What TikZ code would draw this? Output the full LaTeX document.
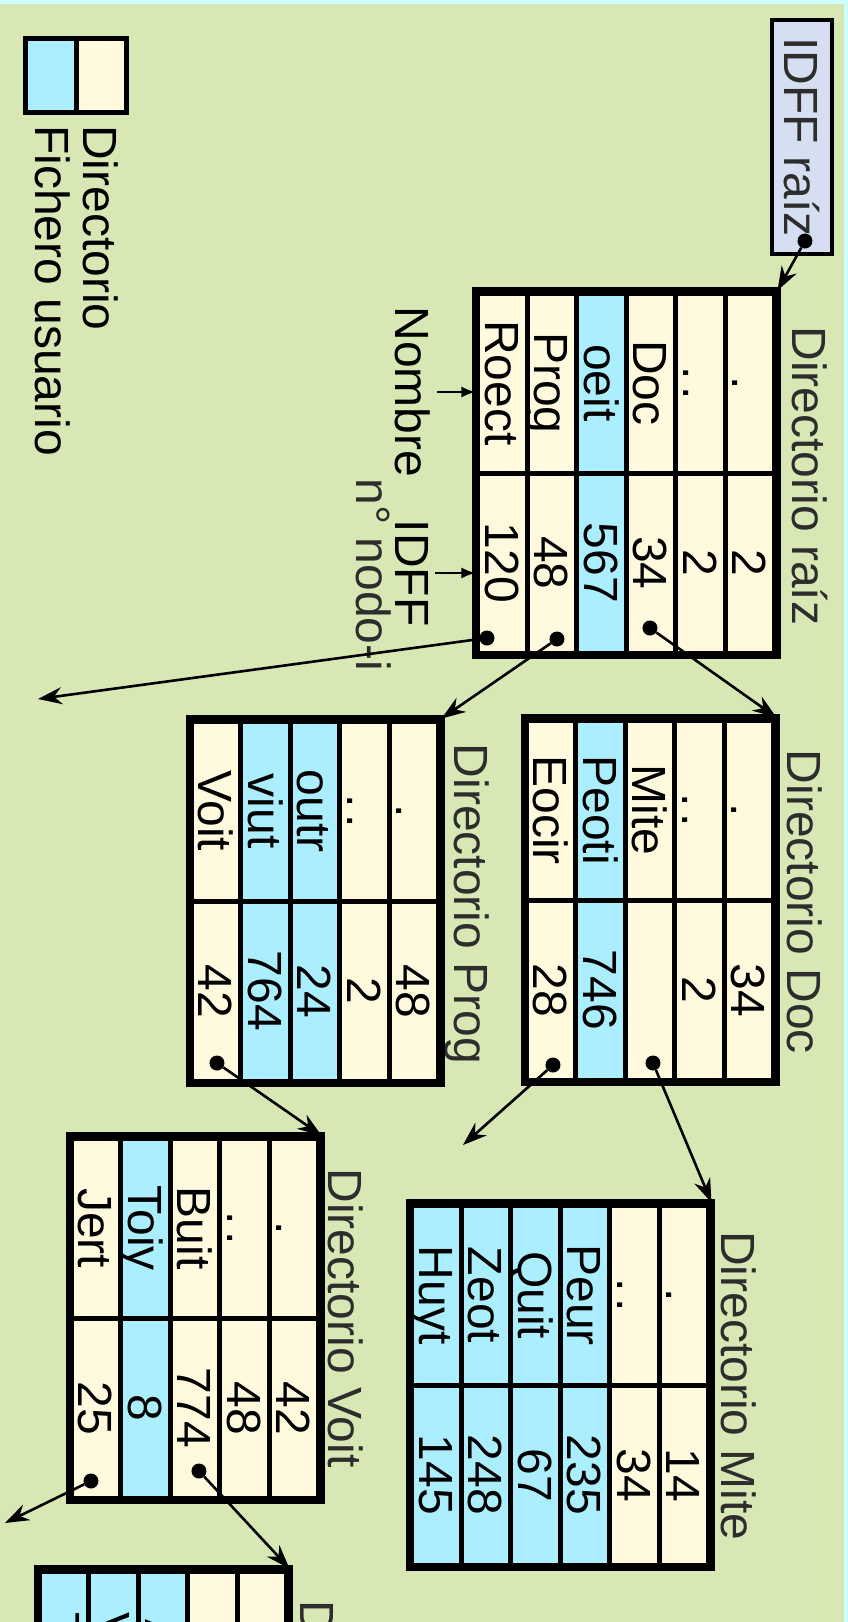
\documentclass[tikz,border=0pt]{standalone}
\usepackage{fontspec}
\setmainfont{Liberation Sans}
\usetikzlibrary{arrows.meta, calc}
\usepackage{xcolor}
\definecolor{fondo}{RGB}{216,232,180}
\definecolor{cielo}{RGB}{204,255,255}
\definecolor{crema}{RGB}{255,250,222}
\definecolor{celeste}{RGB}{170,238,255}
\definecolor{lavanda}{RGB}{214,222,242}
\definecolor{titulo}{RGB}{45,45,45}

\begin{document}
\begin{tikzpicture}[
  x=1pt, y=1pt,
  every node/.style={font=\fontsize{48}{56}\selectfont},
  cell/.style={draw, line width=5pt, minimum width=180pt, minimum height=49.5pt,
    inner sep=0pt, text height=34.5pt, text depth=0pt},
  tabframe/.style={draw, line width=6.5pt},
  dirtitle/.style={anchor=base, inner sep=0pt, text=titulo},
  idbox/.style={draw, line width=4.5pt, fill=lavanda, text=titulo, inner sep=0pt,
    minimum width=234pt, minimum height=60pt},
  legbox/.style={draw, line width=5pt, inner sep=0pt, minimum width=74pt, minimum height=50.5pt},
  punto/.style={circle, fill, inner sep=0pt, minimum size=15pt},
  link/.style={line width=2.6pt, -{Stealth[length=24pt, width=17pt]}},
  hint/.style={line width=2pt, -{Latex[length=14pt, width=11pt]}},
]
\begin{scope}[rotate=-90, transform shape]
\useasboundingbox (0,0) rectangle (1622,-848);
\clip (0,0) rectangle (1622,-848);
\fill[cielo] (0,0) rectangle (1622,-848);
\fill[fondo] (4,-4) rectangle (1622,-848);

% leyenda
\node[legbox, fill=crema] (ley-dir) at (75,-746.5) {};
\node[legbox, fill=celeste] (ley-fich) at (75,-797) {};
\node[anchor=base west, inner sep=0pt] (ley-dir-txt) at (125,-764) {Directorio};
\node[anchor=base west, inner sep=0pt] (ley-fich-txt) at (125,-812) {Fichero usuario};

\node[idbox] (idff) at (137,-46) {IDFF raíz};

% directorio raiz
\node[dirtitle] (t-raiz) at (476,-55) {Directorio raíz};
\foreach \nm/\num/\col [count=\i] in {{.}/2/crema, {.\hspace{7pt}.}/2/crema, Doc/34/crema,
    oeit/567/celeste, Prog/48/crema, Roect/120/crema} {
  \node[cell, fill=\col] (raiz-n\i) at (383, {-73-(\i-0.5)*49.5}) {\nm};
  \node[cell, fill=\col] (raiz-v\i) at (563, {-73-(\i-0.5)*49.5}) {\num};
}
\draw[tabframe] (raiz-n1.north west) rectangle (raiz-v6.south east);
\node[anchor=base, inner sep=6pt] (l-nombre) at (392,-452) {Nombre};
\node[anchor=base, inner sep=6pt] (l-idff) at (573,-452) {IDFF};
\node[anchor=base, inner sep=0pt, text=titulo] (l-nodo) at (575,-491) {n° nodo-i};

% directorio Doc
\node[dirtitle] (t-doc) at (902,-60) {Directorio Doc};
\foreach \nm/\num/\col [count=\i] in {{.}/34/crema, {.\hspace{7pt}.}/2/crema, Mite/{}/crema,
    Peoti/746/celeste, Eocir/28/crema} {
  \node[cell, fill=\col] (doc-n\i) at (810, {-74-(\i-0.5)*49.5}) {\nm};
  \node[cell, fill=\col] (doc-v\i) at (990, {-74-(\i-0.5)*49.5}) {\num};
}
\draw[tabframe] (doc-n1.north west) rectangle (doc-v5.south east);

% directorio Prog
\node[dirtitle] (t-prog) at (904,-393) {Directorio Prog};
\foreach \nm/\num/\col [count=\i] in {{.}/48/crema, {.\hspace{7pt}.}/2/crema, outr/24/celeste,
    viut/764/celeste, Voit/42/crema} {
  \node[cell, fill=\col] (prog-n\i) at (811, {-409-(\i-0.5)*49.5}) {\nm};
  \node[cell, fill=\col] (prog-v\i) at (991, {-409-(\i-0.5)*49.5}) {\num};
}
\draw[tabframe] (prog-n1.north west) rectangle (prog-v5.south east);

% directorio Mite
\node[dirtitle] (t-mite) at (1386,-126) {Directorio Mite};
\foreach \nm/\num/\col [count=\i] in {{.}/14/crema, {.\hspace{7pt}.}/34/crema, Peur/235/celeste,
    Quit/67/celeste, Zeot/248/celeste, Huyt/145/celeste} {
  \node[cell, fill=\col] (mite-n\i) at (1295, {-139-(\i-0.5)*49.5}) {\nm};
  \node[cell, fill=\col] (mite-v\i) at (1475, {-139-(\i-0.5)*49.5}) {\num};
}
\draw[tabframe] (mite-n1.north west) rectangle (mite-v6.south east);

% directorio Voit
\node[dirtitle] (t-voit) at (1318,-519) {Directorio Voit};
\foreach \nm/\num/\col [count=\i] in {{.}/42/crema, {.\hspace{7pt}.}/48/crema, Buit/774/crema,
    Toiy/8/celeste, Jert/25/crema} {
  \node[cell, fill=\col] (voit-n\i) at (1228, {-529-(\i-0.5)*49.5}) {\nm};
  \node[cell, fill=\col] (voit-v\i) at (1408, {-529-(\i-0.5)*49.5}) {\num};
}
\draw[tabframe] (voit-n1.north west) rectangle (voit-v5.south east);

% directorio Buit (cortado)
\node[dirtitle] (t-buit) at (1751,-547) {Directorio Buit};
\foreach \nm/\num/\col [count=\i] in {{.}/774/crema, {.\hspace{7pt}.}/42/crema, Aoit/{}/celeste,
    Vuet/{}/celeste, Tuer/{}/celeste} {
  \node[cell, fill=\col] (buit-n\i) at (1661, {-561-(\i-0.5)*49.5}) {\nm};
  \node[cell, fill=\col] (buit-v\i) at (1841, {-561-(\i-0.5)*49.5}) {\num};
}
\draw[tabframe] (buit-n1.north west) rectangle (buit-v5.south east);

% punteros
\node[punto] (p-idff) at (241,-43) {};
\node[punto] (p-raiz3) at (628,-198) {};
\node[punto] (p-raiz5) at (639,-291) {};
\node[punto] (p-raiz6) at (638,-361) {};
\node[punto] (p-doc3) at (1063,-195) {};
\node[punto] (p-doc5) at (1065,-295) {};
\node[punto] (p-prog5) at (1063,-631) {};
\node[punto] (p-voit3) at (1471,-649) {};
\node[punto] (p-voit5) at (1481,-757) {};
\coordinate (f-raiz) at (699,-810);
\coordinate (f-doc) at (1145,-385);
\coordinate (f-voit) at (1523,-843);

\draw[link] (p-idff) -- (raiz-n1.north west);
\draw[link] (p-raiz3) -- (doc-n1.north west);
\draw[link] (p-raiz5) -- (prog-n1.north west);
\draw[link] (p-raiz6) -- (f-raiz);
\draw[link] (p-doc3) -- (mite-n1.north west);
\draw[link] (p-doc5) -- (f-doc);
\draw[link] (p-prog5) -- (voit-n1.north west);
\draw[link] (p-voit3) -- (buit-n1.north west);
\draw[link] (p-voit5) -- (f-voit);
\draw[hint] (l-nombre.north) -- ($(raiz-n6.south west)!(l-nombre.north)!(raiz-n6.south east)$);
\draw[hint] (l-idff.north) -- ($(raiz-v6.south west)!(l-idff.north)!(raiz-v6.south east)$);
\end{scope}
\end{tikzpicture}
\end{document}
